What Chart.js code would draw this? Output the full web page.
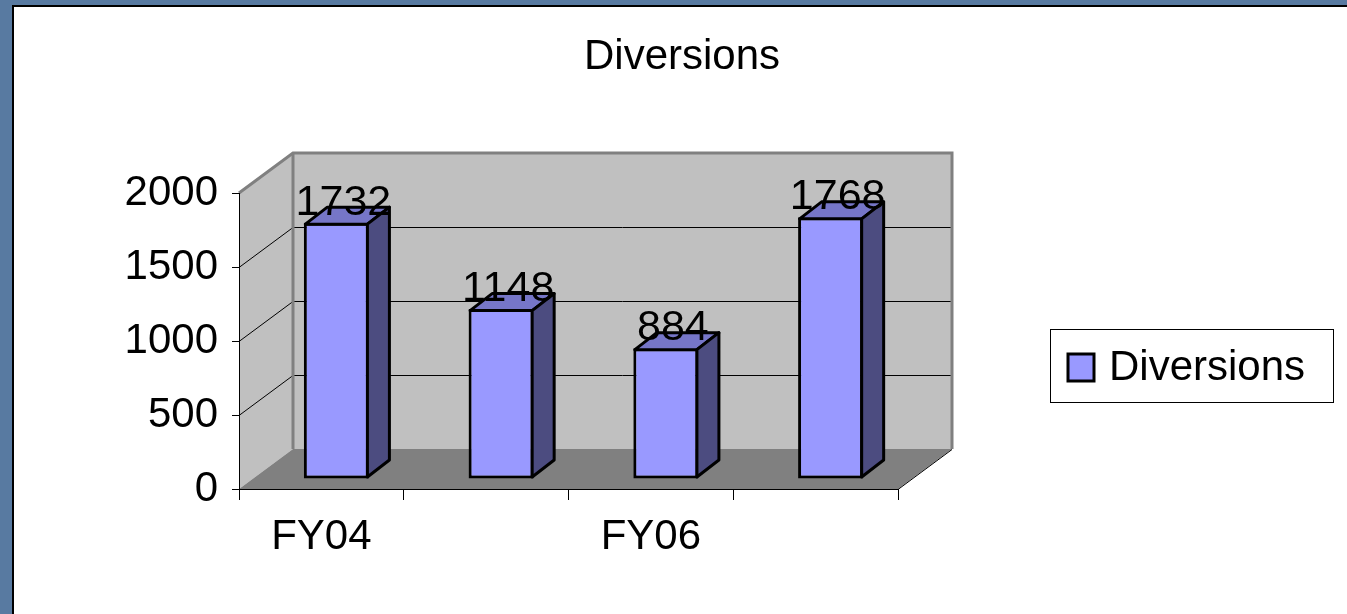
<!DOCTYPE html>
<html>
<head>
<meta charset="utf-8">
<script src="https://cdn.jsdelivr.net/npm/chart.js@4.4.1/dist/chart.umd.min.js"></script>
<style>
  html, body { margin: 0; padding: 0; width: 1347px; height: 614px; overflow: hidden; background: #587aa1; }
  #panel { position: absolute; left: 12px; top: 5px; right: 0; bottom: 0; background: #fff;
           border-left: 2px solid #000; border-top: 2px solid #000; }
  #wrap { position: absolute; left: 0; top: 0; width: 1347px; height: 614px; }
</style>
</head>
<body>
<div id="panel"></div>
<div id="wrap"><canvas id="canvas" width="1347" height="614"></canvas></div>
<script>
var canvas = document.getElementById("canvas");
var ctx = canvas.getContext("2d");

var categories = ['FY04', 'FY05', 'FY06', 'FY07'];
var diversions = [1732, 1148, 884, 1768];
var yTicks = [0, 500, 1000, 1500, 2000];
var seriesName = 'Diversions';

var fontFamily = 'Arial, "Liberation Sans", sans-serif';
var depth = {x: 54, y: -40};     // offset of the back wall from the axes
var barShift = {x: 15, y: -10};  // bars stand a little way into the floor
var barDepth = {x: 22, y: -17};  // thickness of each bar

var barFront = '#9999ff', barTop = '#7676c8', barSide = '#4c4c80';

Chart.defaults.font.family = fontFamily;
Chart.defaults.color = '#000';

function poly(c, pts, fill) {
    c.beginPath();
    c.moveTo(pts[0][0], pts[0][1]);
    for (let i = 1; i < pts.length; i++) c.lineTo(pts[i][0], pts[i][1]);
    c.closePath();
    c.fillStyle = fill;
    c.fill();
}

// grey walls, dark floor and the gridlines on them
var walls = {
    id: 'walls',
    beforeDraw: function(chart) {
        let c = chart.ctx, xs = chart.scales.x, ys = chart.scales.y;
        let L = xs.left, R = xs.right;
        let yb = ys.getPixelForValue(yTicks[0]);
        let yt = ys.getPixelForValue(yTicks[yTicks.length - 1]);
        let dx = depth.x, dy = depth.y;
        c.save();
        poly(c, [[L, yb], [L, yt], [L + dx, yt + dy], [L + dx, yb + dy]], '#c0c0c0');
        poly(c, [[L + dx, yt + dy], [R + dx, yt + dy], [R + dx, yb + dy], [L + dx, yb + dy]], '#c0c0c0');
        poly(c, [[L, yb], [L + dx, yb + dy], [R + dx, yb + dy], [R, yb]], '#808080');

        c.strokeStyle = '#000';
        c.lineWidth = 1;
        yTicks.slice(1, -1).forEach(function(v) {
            let y = Math.round(ys.getPixelForValue(v)) + 0.5;
            c.beginPath();
            c.moveTo(L, y);
            c.lineTo(L + dx, y + dy);
            c.lineTo(R + dx, y + dy);
            c.stroke();
        });
        c.beginPath();
        c.moveTo(R, yb + 0.5);
        c.lineTo(R + dx, yb + dy + 0.5);
        c.stroke();

        c.strokeStyle = '#808080';
        c.lineWidth = 3;
        c.beginPath();
        c.moveTo(L, yt);
        c.lineTo(L + dx, yt + dy);
        c.lineTo(R + dx, yt + dy);
        c.lineTo(R + dx, yb + dy);
        c.stroke();
        c.beginPath();
        c.moveTo(L + dx, yt + dy);
        c.lineTo(L + dx, yb + dy);
        c.stroke();
        c.restore();
    }
};

// pushes bars back, adds top and side faces and the value labels
var bars3d = {
    id: 'bars3d',
    beforeDatasetsDraw: function(chart) {
        chart.ctx.save();
        chart.ctx.translate(barShift.x, barShift.y);
    },
    afterDatasetsDraw: function(chart) {
        let c = chart.ctx;
        let meta = chart.getDatasetMeta(0);
        let values = chart.data.datasets[0].data;
        c.lineWidth = 3;
        c.lineJoin = 'round';
        c.strokeStyle = '#000';
        meta.data.forEach(function(bar, i) {
            let p = bar.getProps(['x', 'y', 'base', 'width'], true);
            let l = p.x - p.width / 2 + 1.5, r = p.x + p.width / 2 - 1.5;
            let t = p.y + 1.5, b = p.base - 1.5;
            let dx = barDepth.x, dy = barDepth.y;
            let top = [[l, t], [l + dx, t + dy], [r + dx, t + dy], [r, t]];
            let side = [[r, t], [r + dx, t + dy], [r + dx, b + dy], [r, b]];
            poly(c, top, barTop); c.stroke();
            poly(c, side, barSide); c.stroke();

            c.fillStyle = '#000';
            c.font = '43px ' + fontFamily;
            c.textAlign = 'center';
            c.textBaseline = 'alphabetic';
            c.fillText(String(values[i]), p.x + 7, p.y - 8);
        });
        c.restore();
    }
};

var legendBox = {
    id: 'legendBox',
    afterDraw: function(chart) {
        let c = chart.ctx;
        c.save();
        c.strokeStyle = '#000';
        c.lineWidth = 1;
        c.strokeRect(1050.5, 329.5, 283, 73);
        c.fillStyle = barFront;
        c.fillRect(1068, 354, 26, 27);
        c.lineWidth = 3;
        c.strokeRect(1068, 354, 26, 27);
        c.fillStyle = '#000';
        c.font = '42px ' + fontFamily;
        c.textAlign = 'left';
        c.textBaseline = 'middle';
        c.fillText(chart.data.datasets[0].label, 1109, 368);
        c.restore();
    }
};

var dataset = {
    labels: categories,
    datasets: [{
        label: seriesName,
        data: diversions,
        backgroundColor: barFront,
        borderColor: '#000',
        borderWidth: 3,
        borderSkipped: false,
        categoryPercentage: 1,
        barPercentage: 0.395,
        clip: false
    }]
};

var options = {
    responsive: false,
    animation: false,
    layout: { padding: { left: 17, right: 0, top: 0, bottom: 0 } },
    plugins: {
        legend: { display: false },
        tooltip: { enabled: false },
        title: {
            display: true,
            text: 'Diversions',
            color: '#000',
            font: { size: 42, weight: 'normal' },
            padding: { top: 32, bottom: 110.6 }
        }
    },
    scales: {
        x: {
            grid: { drawOnChartArea: false, tickLength: 11, color: '#000', offset: true },
            border: { color: '#000', width: 1 },
            ticks: {
                font: { size: 42 },
                padding: 12,
                maxRotation: 0,
                autoSkip: false,
                callback: function(value, index) { return index % 2 === 0 ? categories[index] : ''; }
            },
            afterFit: function(scale) { scale.height = 125; }
        },
        y: {
            min: yTicks[0],
            max: yTicks[yTicks.length - 1],
            grid: { drawOnChartArea: false, tickLength: 7, color: '#000' },
            border: { color: '#000', width: 1 },
            ticks: {
                stepSize: 500,
                font: { size: 42 },
                padding: 14,
                callback: function(value) { return String(value); }
            },
            afterFit: function(scale) { scale.width = 222; }
        },
        // empty right-hand band that holds the legend
        side: {
            type: 'linear',
            position: 'right',
            min: 0,
            max: 1,
            grid: { display: false },
            border: { display: false },
            ticks: { display: false },
            afterFit: function(scale) { scale.width = 449; }
        }
    }
};

var diversionChart = new Chart(ctx, {
    type: 'bar',
    data: dataset,
    options: options,
    plugins: [walls, bars3d, legendBox]
});
</script>
</body>
</html>
